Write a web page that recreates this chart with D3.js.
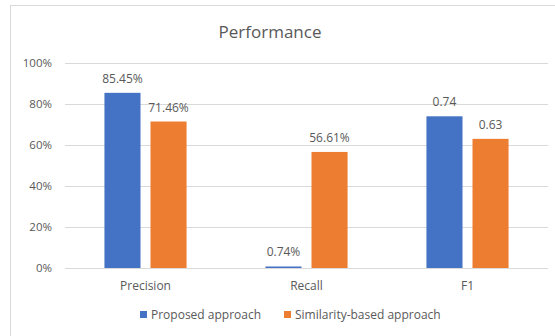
<!DOCTYPE html>
<html>
<head>
<meta charset="utf-8">
<script src="https://cdn.jsdelivr.net/npm/d3@7"></script>
<style>
  body { margin: 0; background: #fff; }
  svg text { font-family: "Open Sans", "Liberation Sans", sans-serif; fill: #595959; }
</style>
</head>
<body>
<svg id="chart" width="555" height="336"></svg>
<script>
// chart data
const categories = ['Precision', 'Recall', 'F1'];
const seriesNames = ['Proposed approach', 'Similarity-based approach'];
const proposed = [85.45, 0.74, 74];
const similarity = [71.46, 56.61, 63];
const proposedLabels = ['85.45%', '0.74%', '0.74'];
const similarityLabels = ['71.46%', '56.61%', '0.63'];
const yTicks = [0, 20, 40, 60, 80, 100];
const colors = ['#4472C4', '#ED7D31'];

const svg = d3.select('#chart');

// outer frame
svg.append('rect')
	.attr('x', 10.5).attr('y', 5.5)
	.attr('width', 560).attr('height', 340)
	.attr('fill', '#fff')
	.attr('stroke', '#d9d9d9');

const plotLeft = 65, plotRight = 548, plotTop = 63, plotBottom = 268;

const x0 = d3.scaleBand()
	.domain(categories)
	.range([plotLeft, plotRight])
	.paddingInner(0.49)
	.paddingOuter(0.245);

const x1 = d3.scaleBand()
	.domain(seriesNames)
	.range([0, x0.bandwidth()])
	.paddingInner(0.217);

const y = d3.scaleLinear().domain([0, 100]).range([plotBottom, plotTop]);

// title
svg.append('text')
	.attr('x', 270).attr('y', 38)
	.attr('text-anchor', 'middle')
	.style('font-size', '17px')
	.text('Performance');

// gridlines + y labels
const yAxis = svg.append('g')
	.attr('transform', `translate(${plotLeft},0)`)
	.call(d3.axisLeft(y).tickValues(yTicks).tickSize(-(plotRight - plotLeft)).tickFormat(d => d + '%'));
yAxis.select('.domain').remove();
yAxis.selectAll('.tick line').attr('stroke', '#d9d9d9');
yAxis.selectAll('.tick text')
	.attr('x', -13)
	.style('font-size', '11.5px')
	.style('font-family', '"Open Sans", "Liberation Sans", sans-serif')
	.attr('fill', '#595959');

// bars
const rows = categories.map((c, i) => ({
	cat: c,
	vals: [
		{ s: seriesNames[0], v: proposed[i], lab: proposedLabels[i], col: colors[0] },
		{ s: seriesNames[1], v: similarity[i], lab: similarityLabels[i], col: colors[1] }
	]
}));

const groups = svg.selectAll('g.cat')
	.data(rows)
	.join('g')
	.attr('class', 'cat')
	.attr('transform', d => `translate(${x0(d.cat)},0)`);

groups.selectAll('rect')
	.data(d => d.vals)
	.join('rect')
	.attr('x', d => x1(d.s))
	.attr('y', d => y(d.v))
	.attr('width', x1.bandwidth())
	.attr('height', d => Math.max(1, y(0) - y(d.v)))
	.attr('fill', d => d.col);

groups.selectAll('text')
	.data(d => d.vals)
	.join('text')
	.attr('x', d => x1(d.s) + x1.bandwidth() / 2)
	.attr('y', d => y(d.v) - 10)
	.attr('text-anchor', 'middle')
	.style('font-size', '12px')
	.text(d => d.lab);

// x axis line + labels
svg.append('line')
	.attr('x1', plotLeft).attr('x2', plotRight)
	.attr('y1', plotBottom + 0.5).attr('y2', plotBottom + 0.5)
	.attr('stroke', '#d9d9d9');

svg.selectAll('text.xlab')
	.data(categories)
	.join('text')
	.attr('class', 'xlab')
	.attr('x', d => x0(d) + x0.bandwidth() / 2)
	.attr('y', 290)
	.attr('text-anchor', 'middle')
	.style('font-size', '12px')
	.text(d => d);

// legend
const legendX = [140, 284];
const legend = svg.selectAll('g.legend')
	.data(seriesNames)
	.join('g')
	.attr('class', 'legend')
	.attr('transform', (d, i) => `translate(${legendX[i]},315)`);
legend.append('rect')
	.attr('x', 0).attr('y', -4)
	.attr('width', 7).attr('height', 7)
	.attr('fill', (d, i) => colors[i]);
legend.append('text')
	.attr('x', 11).attr('y', 4)
	.style('font-size', '12px')
	.text(d => d);
</script>
</body>
</html>
